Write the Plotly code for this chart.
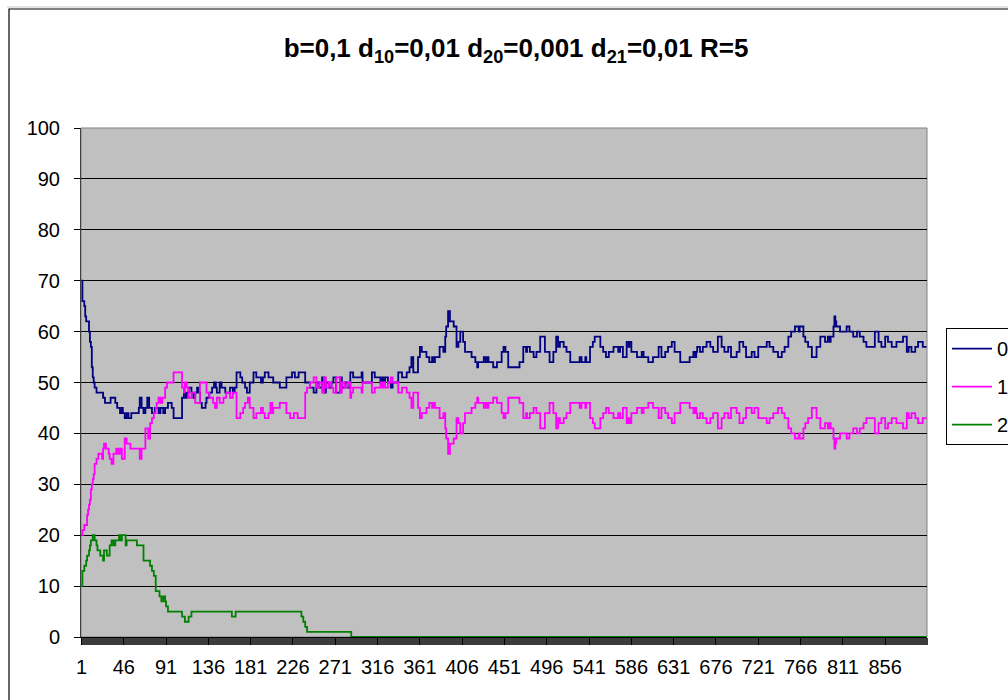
import plotly.graph_objects as go

# ---- data: (category, value) at every change of level; held until the next change ----
series_names = ["0", "1", "2"]
series_colors = ["#000080", "#FF00FF", "#008000"]

steps_0 = [(1,70),(2,66),(4,65),(5,63),(6,62),(9,60),(10,58),(11,57),(12,53),(13,51),(14,50),(15,49),(17,48),
 (24,47),(26,46),(32,47),(37,46),(39,45),(42,44),(44,45),(45,44),(47,43),(49,44),(51,43),(54,44),(62,45),(63,47),
 (65,45),(67,44),(69,45),(71,47),(73,45),(76,44),(79,45),(83,44),(85,45),(88,44),(90,45),(93,46),(97,45),(99,43),
 (108,47),(110,48),(112,47),(113,48),(115,49),(118,48),(120,47),(122,48),(124,49),(126,48),(127,46),(129,45),
 (133,46),(134,47),(137,48),(140,49),(142,50),(144,49),(145,48),(148,50),(150,49),(154,48),(159,49),(162,48),
 (164,49),(166,52),(170,51),(172,50),(175,49),(177,48),(180,50),(184,52),(187,51),(192,50),(194,51),(196,52),
 (200,51),(205,50),(212,49),(219,51),(225,52),(228,51),(232,52),(239,50),(244,49),(248,48),(251,50),(254,49),
 (257,51),(259,48),(261,50),(264,49),(267,50),(269,51),(272,48),(276,51),(278,49),(281,50),(284,49),(287,52),
 (290,51),(299,52),(300,50),(310,52),(313,51),(319,50),(321,51),(322,50),(324,51),(327,50),(330,49),(332,50),
 (338,52),(342,51),(347,52),(350,53),(352,55),(354,52),(359,55),(361,57),(363,56),(368,55),(371,54),(374,55),
 (376,54),(377,55),(382,57),(386,56),(388,59),(389,61),(391,64),(393,62),(397,61),(400,57),(402,58),(404,60),
 (407,58),(409,56),(416,55),(420,54),(422,53),(423,54),(429,55),(431,54),(433,55),(434,54),(439,53),(443,54),
 (448,56),(450,57),(452,56),(455,53),(467,54),(471,57),(474,56),(475,57),(478,56),(482,55),(485,56),(489,59),
 (494,56),(499,54),(503,56),(506,59),(508,57),(510,58),(514,57),(517,56),(521,54),(531,55),(533,54),(537,55),
 (538,54),(542,57),(545,58),(547,59),(553,57),(556,56),(559,55),(562,56),(567,57),(572,56),(574,57),(577,55),
 (581,58),(583,57),(584,58),(586,56),(592,55),(597,56),(599,55),(604,54),(609,55),(615,57),(618,55),(622,56),
 (625,57),(629,58),(632,56),(638,54),(648,55),(652,56),(654,55),(655,56),(656,57),(659,56),(662,57),(666,58),
 (670,57),(673,56),(678,59),(682,57),(685,56),(689,57),(692,55),(698,56),(701,58),(705,57),(708,55),(714,56),
 (717,55),(721,57),(730,58),(733,57),(737,56),(742,55),(746,56),(749,57),(753,59),(756,60),(760,61),(764,60),
 (765,61),(769,59),(771,58),(774,57),(778,55),(783,57),(787,59),(792,58),(795,59),(797,58),(798,59),(801,61),
 (802,63),(803,62),(804,61),(808,60),(815,61),(818,60),(822,59),(826,60),(829,59),(833,58),(836,57),(845,60),
 (849,58),(852,57),(856,59),(859,58),(863,57),(868,58),(875,59),(879,56),(881,57),(884,56),(888,57),(891,58),
 (896,57),(900,57)]

steps_1 = [(1,20),(2,21),(4,22),(7,24),(8,25),(9,26),(10,27),(11,29),(12,30),(13,31),(14,32),(15,34),(17,35),
 (19,36),(23,35),(24,37),(25,38),(27,37),(30,36),(31,35),(33,34),(35,36),(38,37),(40,36),(42,37),(44,35),(47,39),
 (49,38),(53,37),(63,35),(65,37),(69,41),(72,39),(74,42),(76,43),(78,44),(80,45),(81,46),(83,47),(85,46),(87,47),
 (90,49),(92,50),(99,52),(108,49),(110,48),(111,50),(113,49),(115,47),(118,48),(122,46),(127,50),(134,48),
 (137,47),(141,46),(143,45),(145,47),(148,46),(152,47),(155,48),(159,47),(162,48),(166,43),(170,44),(173,45),
 (175,46),(178,47),(180,45),(184,43),(187,44),(192,45),(194,44),(196,43),(200,44),(202,46),(204,44),(205,45),
 (212,46),(219,44),(223,43),(227,44),(231,43),(239,48),(241,49),(244,50),(248,51),(251,49),(254,50),(257,48),
 (259,51),(261,49),(264,50),(267,49),(269,48),(272,51),(276,48),(278,50),(281,49),(284,50),(287,47),(288,48),
 (290,49),(299,48),(300,50),(310,48),(313,49),(319,50),(321,49),(322,50),(324,49),(327,50),(330,51),(332,50),
 (338,48),(342,49),(347,48),(350,47),(352,45),(354,48),(359,45),(361,43),(363,44),(368,45),(371,46),(374,45),
 (376,46),(377,45),(382,43),(386,44),(388,41),(389,39),(391,36),(393,38),(397,39),(400,43),(402,42),(404,40),
 (407,42),(409,44),(416,45),(420,46),(422,47),(423,46),(429,45),(431,46),(433,45),(434,46),(439,47),(443,46),
 (448,44),(450,43),(452,44),(455,47),(467,46),(471,43),(474,44),(475,43),(478,44),(482,45),(485,44),(489,41),
 (494,44),(499,46),(503,44),(506,41),(508,43),(510,42),(514,43),(517,44),(521,46),(531,45),(533,46),(537,45),
 (538,46),(542,43),(545,42),(547,41),(553,43),(556,44),(559,45),(562,44),(567,43),(572,44),(574,43),(577,45),
 (581,42),(583,43),(584,42),(586,44),(592,45),(597,44),(599,45),(604,46),(609,45),(615,43),(618,45),(622,44),
 (625,43),(629,42),(632,44),(638,46),(648,45),(652,44),(654,45),(655,44),(656,43),(659,44),(662,43),(666,42),
 (670,43),(673,44),(678,41),(682,43),(685,44),(689,43),(692,45),(698,44),(701,42),(705,43),(708,45),(714,44),
 (717,45),(721,43),(730,42),(733,43),(737,44),(742,45),(746,44),(749,43),(753,41),(756,40),(760,39),(764,40),
 (765,39),(769,41),(771,42),(774,43),(778,45),(783,43),(787,41),(792,42),(795,41),(797,42),(798,41),(801,39),
 (802,37),(803,38),(804,39),(808,40),(815,39),(818,40),(822,41),(826,40),(829,41),(833,42),(836,43),(845,40),
 (849,42),(852,43),(856,41),(859,42),(863,43),(868,42),(875,41),(879,44),(881,43),(884,44),(888,43),(891,42),
 (896,43),(900,43)]

steps_2 = [(1,10),(2,13),(4,14),(6,15),(7,16),(9,17),(10,18),(11,19),(13,20),(15,19),(17,18),(18,17),(21,16),
 (24,15),(25,17),(28,16),(31,18),(33,19),(35,18),(37,19),(41,20),(42,19),(44,20),(48,18),(49,19),(60,18),(67,15),
 (74,14),(76,13),(78,12),(80,9),(84,8),(86,7),(88,8),(90,7),(91,6),(93,5),(108,4),(111,3),(115,4),(118,5),
 (161,4),(165,5),(235,4),(237,3),(239,2),(241,1),(288,0),(900,0)]

n_categories = 900
tick_labels = [1, 46, 91, 136, 181, 226, 271, 316, 361, 406, 451, 496, 541, 586, 631, 676, 721, 766, 811, 856]
y_ticks = [0, 10, 20, 30, 40, 50, 60, 70, 80, 90, 100]
title_html = "<b>b=0,1 d<sub>10</sub>=0,01 d<sub>20</sub>=0,001 d<sub>21</sub>=0,01 R=5</b>"

FONT = "Arial, Liberation Sans, sans-serif"

fig = go.Figure()
for name, color, steps in zip(series_names, series_colors, [steps_0, steps_1, steps_2]):
    xs = [s[0] for s in steps]
    ys = [s[1] for s in steps]
    fig.add_trace(go.Scatter(x=xs, y=ys, mode="lines", name=name, legendgroup=name,
                             line=dict(color=color, width=1.8, shape="hv"),
                             hoverinfo="skip"))

# plot-area and chart-area borders
fig.add_shape(type="rect", xref="paper", yref="paper", x0=0, x1=1, y0=0, y1=1,
              line=dict(color="#808080", width=1), layer="below")
fig.add_shape(type="rect", xref="paper", yref="paper", x0=-0.0851, x1=1.104, y0=-0.15, y1=1.2338,
              line=dict(color="black", width=1.2), fillcolor="rgba(0,0,0,0)")
fig.add_shape(type="line", xref="paper", yref="paper", x0=-0.0875, x1=1.2, y0=1.2377, y1=1.2377,
              line=dict(color="#c8c8c8", width=1))

fig.update_layout(
    width=1008, height=700,
    paper_bgcolor="white", plot_bgcolor="#C0C0C0",
    margin=dict(l=81, r=81, t=128, b=63, autoexpand=False),
    font=dict(family=FONT, size=20, color="black"),
    title=dict(text=title_html, x=516/1008, xref="container", xanchor="center",
               y=1 - 48/700, yref="container", yanchor="middle",
               font=dict(family=FONT, size=26, color="black")),
    showlegend=True,
    legend=dict(x=1.0225, xanchor="left", y=0.607, yanchor="top",
                bgcolor="white", bordercolor="black", borderwidth=1,
                font=dict(family=FONT, size=20, color="black"),
                tracegroupgap=9, itemwidth=40, itemclick=False, itemdoubleclick=False),
)

fig.update_xaxes(range=[0.5, n_categories + 0.5], tickmode="array", tickvals=tick_labels,
                 ticktext=[str(t) for t in tick_labels],
                 ticks="outside", ticklen=7, tickcolor="black", tickwidth=1,
                 minor=dict(ticks="outside", tick0=0.5, dtick=1, ticklen=7, tickcolor="#3c3c3c", tickwidth=0.5, showgrid=False),
                 showline=True, linecolor="black", linewidth=1, showgrid=False, zeroline=False,
                 tickfont=dict(family=FONT, size=20, color="black"), ticklabelstandoff=5)
fig.update_yaxes(range=[0, 100], tickmode="array", tickvals=y_ticks,
                 ticks="outside", ticklen=6, tickcolor="black", tickwidth=1,
                 showline=True, linecolor="#404040", linewidth=1,
                 showgrid=True, gridcolor="black", gridwidth=1, zeroline=False,
                 tickfont=dict(family=FONT, size=20, color="black"), ticklabelstandoff=10)

fig.write_html("out.html")
